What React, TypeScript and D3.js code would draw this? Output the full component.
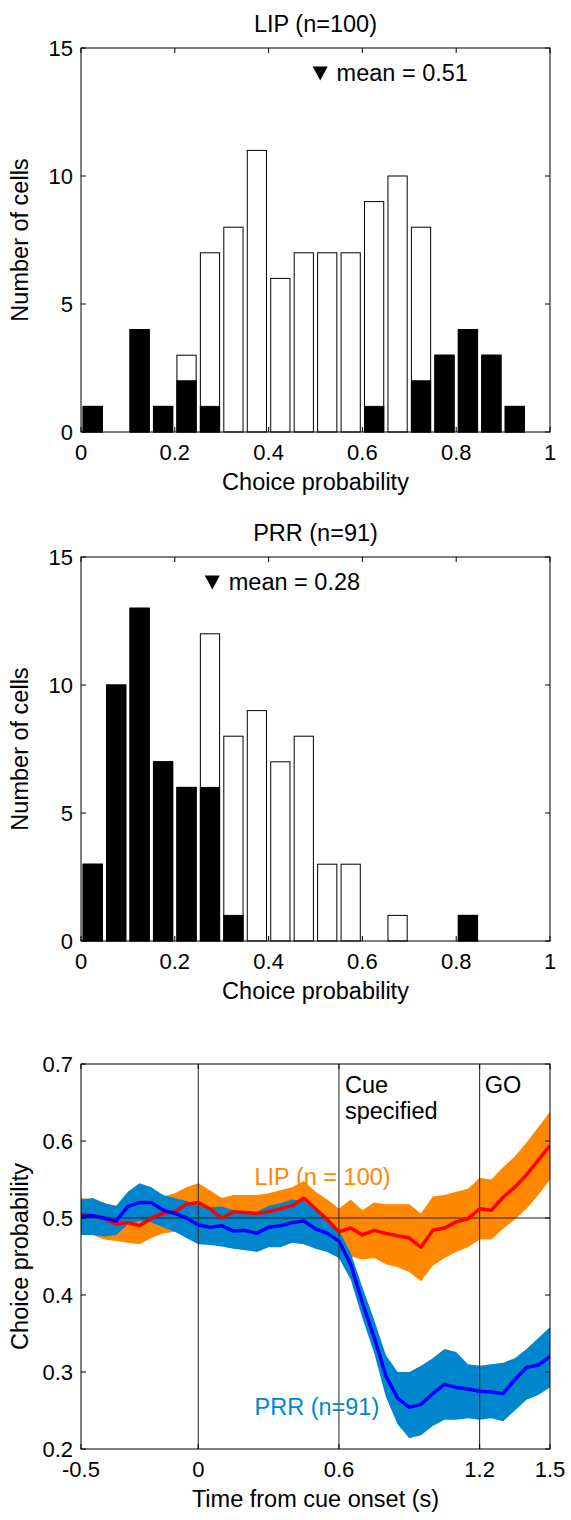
import * as d3 from "d3";
import React from "react";

// histogram bins (left edges), 0.05 wide
const binStarts = d3.range(0, 1, 0.05);
const binWidth = 0.05;

const lipTotal = [1, 0, 4, 1, 3, 7, 8, 11, 6, 7, 7, 7, 9, 10, 8, 3, 4, 3, 1, 0];
const lipSig = [1, 0, 4, 1, 2, 1, 0, 0, 0, 0, 0, 0, 1, 0, 2, 3, 4, 3, 1, 0];
const prrTotal = [3, 10, 13, 7, 6, 12, 8, 9, 7, 8, 3, 3, 0, 1, 0, 0, 1, 0, 0, 0];
const prrSig = [3, 10, 13, 7, 6, 6, 1, 0, 0, 0, 0, 0, 0, 0, 0, 0, 1, 0, 0, 0];

const histXTicks = [0, 0.2, 0.4, 0.6, 0.8, 1];
const histYTicks = [0, 5, 10, 15];

// time course, every 50 ms from -0.5 to 1.5 s
const times = [
  -0.5, -0.45, -0.4, -0.35, -0.3, -0.25, -0.2, -0.15, -0.1, -0.05, 0, 0.05, 0.1, 0.15,
  0.2, 0.25, 0.3, 0.35, 0.4, 0.45, 0.5, 0.55, 0.6, 0.65, 0.7, 0.75, 0.8, 0.85, 0.9, 0.95,
  1.0, 1.05, 1.1, 1.15, 1.2, 1.25, 1.3, 1.35, 1.4, 1.45, 1.5,
];
const lipMean = [
  0.505, 0.503, 0.499, 0.492, 0.494, 0.49, 0.5, 0.506, 0.508, 0.518, 0.52, 0.512, 0.5, 0.508,
  0.507, 0.506, 0.508, 0.512, 0.516, 0.526, 0.512, 0.498, 0.482, 0.487, 0.478, 0.484, 0.48,
  0.477, 0.474, 0.462, 0.484, 0.487, 0.495, 0.499, 0.512, 0.51, 0.527, 0.54, 0.556, 0.575, 0.594,
];
const lipLow = [
  0.485, 0.478, 0.472, 0.47, 0.468, 0.466, 0.474, 0.48, 0.482, 0.486, 0.49, 0.484, 0.476, 0.484,
  0.483, 0.482, 0.484, 0.488, 0.49, 0.5, 0.488, 0.47, 0.452, 0.45, 0.446, 0.448, 0.44, 0.436,
  0.43, 0.418, 0.438, 0.448, 0.456, 0.462, 0.472, 0.472, 0.486, 0.498, 0.512, 0.53, 0.55,
];
const lipHigh = [
  0.526, 0.524, 0.52, 0.512, 0.516, 0.514, 0.522, 0.528, 0.532, 0.54, 0.545, 0.536, 0.526, 0.53,
  0.53, 0.53, 0.532, 0.536, 0.54, 0.548, 0.534, 0.524, 0.512, 0.524, 0.51, 0.52, 0.518, 0.518,
  0.518, 0.506, 0.528, 0.53, 0.534, 0.538, 0.552, 0.55, 0.566, 0.58, 0.598, 0.618, 0.638,
];
const prrMean = [
  0.502, 0.503, 0.5, 0.496, 0.515, 0.52, 0.52, 0.51, 0.506, 0.5, 0.491, 0.488, 0.49, 0.483,
  0.484, 0.48, 0.488, 0.49, 0.494, 0.496, 0.486, 0.48, 0.47, 0.44, 0.39, 0.345, 0.295, 0.266,
  0.254, 0.258, 0.272, 0.284, 0.28, 0.278, 0.275, 0.274, 0.272, 0.29, 0.306, 0.309, 0.32,
];
const prrLow = [
  0.478, 0.478, 0.476, 0.478, 0.492, 0.496, 0.494, 0.488, 0.482, 0.474, 0.466, 0.465, 0.463,
  0.46, 0.458, 0.456, 0.462, 0.462, 0.468, 0.466, 0.46, 0.456, 0.448, 0.42, 0.37, 0.325, 0.268,
  0.232, 0.214, 0.218, 0.23, 0.238, 0.238, 0.24, 0.238, 0.24, 0.236, 0.25, 0.264, 0.27, 0.28,
];
const prrHigh = [
  0.524, 0.526, 0.519, 0.516, 0.534, 0.545, 0.54, 0.53, 0.526, 0.522, 0.516, 0.514, 0.515, 0.51,
  0.508, 0.508, 0.516, 0.519, 0.524, 0.522, 0.512, 0.5, 0.484, 0.455, 0.41, 0.368, 0.322, 0.3,
  0.3, 0.308, 0.318, 0.33, 0.326, 0.31, 0.308, 0.31, 0.312, 0.318, 0.33, 0.344, 0.358,
];

const lineXTicks = [-0.5, 0, 0.6, 1.2, 1.5];
const lineYTicks = [0.2, 0.3, 0.4, 0.5, 0.6, 0.7];
const eventTimes = [0, 0.6, 1.2];

const FONT = "Liberation Sans, Arial, sans-serif";
const TICK_FS = 22;
const LABEL_FS = 23.5;
const TICK_LEN = 5;

const LEFT = 81;
const RIGHT = 550;

function Frame({ x, y, xTicks, yTicks, fmtX, fmtY }) {
  const [y0, y1] = y.range();
  const top = Math.min(y0, y1);
  const bottom = Math.max(y0, y1);
  return (
    <g>
      <rect x={LEFT} y={top} width={RIGHT - LEFT} height={bottom - top} fill="none" stroke="#000" strokeWidth={1} />
      {xTicks.map((t) => (
        <g key={"x" + t}>
          <line x1={x(t)} x2={x(t)} y1={bottom} y2={bottom - TICK_LEN} stroke="#000" />
          <line x1={x(t)} x2={x(t)} y1={top} y2={top + TICK_LEN} stroke="#000" />
          <text x={x(t)} y={bottom + 28} textAnchor="middle" fontSize={TICK_FS} fontFamily={FONT}>
            {fmtX(t)}
          </text>
        </g>
      ))}
      {yTicks.map((t) => (
        <g key={"y" + t}>
          <line x1={LEFT} x2={LEFT + TICK_LEN} y1={y(t)} y2={y(t)} stroke="#000" />
          <line x1={RIGHT} x2={RIGHT - TICK_LEN} y1={y(t)} y2={y(t)} stroke="#000" />
          <text x={LEFT - 8} y={y(t)} dy="0.35em" textAnchor="end" fontSize={TICK_FS} fontFamily={FONT}>
            {fmtY(t)}
          </text>
        </g>
      ))}
    </g>
  );
}

function Histogram({ top, title, total, sig, mean }) {
  const x = d3.scaleLinear().domain([0, 1]).range([LEFT, RIGHT]);
  const y = d3.scaleLinear().domain([0, 15]).range([top + 384, top]);
  const barW = (x(binWidth) - x(0)) * 0.82;
  const bottom = y(0);
  const mx = x(mean);
  const my = y(14);
  return (
    <g>
      <text x={(LEFT + RIGHT) / 2} y={top - 16} textAnchor="middle" fontSize={LABEL_FS} fontFamily={FONT}>
        {title}
      </text>
      {binStarts.map((b, i) =>
        total[i] > 0 ? (
          <rect
            key={"t" + i}
            x={x(b + binWidth / 2) - barW / 2}
            y={y(total[i])}
            width={barW}
            height={bottom - y(total[i])}
            fill="#fff"
            stroke="#000"
            strokeWidth={1}
          />
        ) : null
      )}
      {binStarts.map((b, i) =>
        sig[i] > 0 ? (
          <rect
            key={"s" + i}
            x={x(b + binWidth / 2) - barW / 2}
            y={y(sig[i])}
            width={barW}
            height={bottom - y(sig[i])}
            fill="#000"
            stroke="#000"
            strokeWidth={1}
          />
        ) : null
      )}
      <Frame x={x} y={y} xTicks={histXTicks} yTicks={histYTicks} fmtX={(v) => String(v)} fmtY={(v) => String(v)} />
      <path d={`M${mx - 7.5},${my - 7}L${mx + 7.5},${my - 7}L${mx},${my + 7}Z`} fill="#000" />
      <text x={x(mean + 0.035)} y={my + 7} fontSize={LABEL_FS} fontFamily={FONT}>
        mean = {mean.toFixed(2)}
      </text>
      <text x={(LEFT + RIGHT) / 2} y={bottom + 58} textAnchor="middle" fontSize={LABEL_FS} fontFamily={FONT}>
        Choice probability
      </text>
      <text
        transform={`translate(28,${(top + bottom) / 2}) rotate(-90)`}
        textAnchor="middle"
        fontSize={LABEL_FS}
        fontFamily={FONT}
      >
        Number of cells
      </text>
    </g>
  );
}

function TimeCourse({ top }) {
  const x = d3.scaleLinear().domain([-0.5, 1.5]).range([LEFT, RIGHT]);
  const y = d3.scaleLinear().domain([0.2, 0.7]).range([top + 385, top]);
  const bottom = y(0.2);
  const band = (lo, hi) =>
    d3
      .area()
      .x((d, i) => x(times[i]))
      .y0((d, i) => y(lo[i]))
      .y1((d, i) => y(hi[i]))(times);
  const line = (vals) =>
    d3
      .line()
      .x((d, i) => x(times[i]))
      .y((d, i) => y(vals[i]))(times);
  return (
    <g>
      <defs>
        <clipPath id="tc-clip">
          <rect x={LEFT} y={top} width={RIGHT - LEFT} height={bottom - top} />
        </clipPath>
      </defs>
      <g clipPath="url(#tc-clip)">
        <path d={band(lipLow, lipHigh)} fill="#FF8800" />
        <path d={band(prrLow, prrHigh)} fill="#0086CC" />
        {eventTimes.map((t) => (
          <line key={t} x1={x(t)} x2={x(t)} y1={top} y2={bottom} stroke="#222" strokeWidth={1} />
        ))}
        <line x1={LEFT} x2={RIGHT} y1={y(0.5)} y2={y(0.5)} stroke="#222" strokeWidth={1} />
        <path d={line(lipMean)} fill="none" stroke="#FF0000" strokeWidth={3.5} strokeLinejoin="round" />
        <path d={line(prrMean)} fill="none" stroke="#0000FF" strokeWidth={3.5} strokeLinejoin="round" />
      </g>
      <Frame
        x={x}
        y={y}
        xTicks={lineXTicks}
        yTicks={lineYTicks}
        fmtX={(v) => String(v)}
        fmtY={(v) => v.toFixed(1)}
      />
      <text x={x(0.6) + 6} y={top + 29} fontSize={LABEL_FS} fontFamily={FONT}>
        <tspan x={x(0.6) + 6}>Cue</tspan>
        <tspan x={x(0.6) + 6} dy={26}>specified</tspan>
      </text>
      <text x={x(1.2) + 5} y={top + 29} fontSize={LABEL_FS} fontFamily={FONT}>
        GO
      </text>
      <text x={x(0.24)} y={y(0.543)} fontSize={LABEL_FS} fontFamily={FONT} fill="#FF8800">
        LIP (n = 100)
      </text>
      <text x={x(0.24)} y={y(0.244)} fontSize={LABEL_FS} fontFamily={FONT} fill="#0086CC">
        PRR (n=91)
      </text>
      <text x={(LEFT + RIGHT) / 2} y={bottom + 58} textAnchor="middle" fontSize={LABEL_FS} fontFamily={FONT}>
        Time from cue onset (s)
      </text>
      <text
        transform={`translate(28,${(top + bottom) / 2}) rotate(-90)`}
        textAnchor="middle"
        fontSize={LABEL_FS}
        fontFamily={FONT}
      >
        Choice probability
      </text>
    </g>
  );
}

export default function App() {
  return (
    <svg
      width={571}
      height={1520}
      style={{ position: "absolute", left: 0, top: 0, background: "#fff" }}
    >
      <rect width={571} height={1520} fill="#fff" />
      <Histogram top={48} title="LIP (n=100)" total={lipTotal} sig={lipSig} mean={0.51} />
      <Histogram top={557} title="PRR (n=91)" total={prrTotal} sig={prrSig} mean={0.28} />
      <TimeCourse top={1064} />
    </svg>
  );
}
